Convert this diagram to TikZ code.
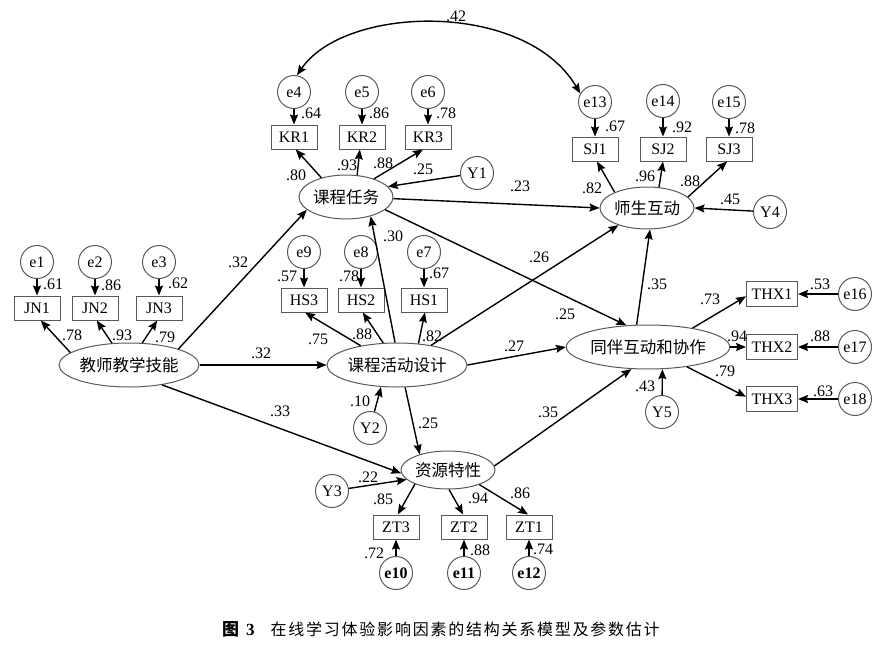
\documentclass[tikz,border=0pt]{standalone}
\usepackage{fontspec}
\setmainfont{Liberation Serif}
\newfontfamily\cjk{Noto Sans CJK SC}
\newfontfamily\cjkcap{Noto Sans CJK SC}[LetterSpace=11]
\usetikzlibrary{shapes.geometric,arrows.meta}
\begin{document}
\begin{tikzpicture}[x=1pt,y=-1pt,
  obs/.style={draw=black!65, line width=1pt, rectangle, minimum width=46pt, minimum height=24pt, inner sep=1pt, font=\fontsize{16}{16}\selectfont},
  wide/.style={minimum width=51pt, minimum height=25pt},
  err/.style={draw=black!65, line width=1pt, circle, minimum size=33pt, inner sep=0pt, font=\fontsize{16}{16}\selectfont},
  lat/.style={draw=black!65, line width=1pt, ellipse, inner sep=0pt, font=\cjk\fontsize{16.5}{16.5}\selectfont},
  arr/.style={line width=1.4pt, -{Stealth[length=10pt,width=8pt,inset=1.5pt]}},
  lbl/.style={font=\fontsize{16}{16}\selectfont, inner sep=0pt}]
\useasboundingbox (0,0) rectangle (884,645);

% latent variables
\node[lat, minimum width=134pt, minimum height=44pt] (TS) at (129,365) {教师教学技能};
\node[lat, minimum width=94pt, minimum height=44pt] (KT) at (346,197) {课程任务};
\node[lat, minimum width=134pt, minimum height=44pt] (HD) at (397,365) {课程活动设计};
\node[lat, minimum width=94pt, minimum height=38pt] (ZY) at (448,470) {资源特性};
\node[lat, minimum width=94pt, minimum height=42pt] (SH) at (647,208) {师生互动};
\node[lat, minimum width=154pt, minimum height=44pt] (TB) at (648,347) {同伴互动和协作};

% indicators
\node[obs] (JN1) at (37,308) {JN1};
\node[obs] (JN2) at (95,308) {JN2};
\node[obs] (JN3) at (159,308) {JN3};
\node[obs] (KR1) at (294,137) {KR1};
\node[obs] (KR2) at (362,137) {KR2};
\node[obs] (KR3) at (428,137) {KR3};
\node[obs] (HS3) at (304,300) {HS3};
\node[obs] (HS2) at (361,300) {HS2};
\node[obs] (HS1) at (424,300) {HS1};
\node[obs] (SJ1) at (595,149) {SJ1};
\node[obs] (SJ2) at (663,149) {SJ2};
\node[obs] (SJ3) at (729,149) {SJ3};
\node[obs] (ZT3) at (396,527) {ZT3};
\node[obs] (ZT2) at (464,527) {ZT2};
\node[obs] (ZT1) at (529,527) {ZT1};
\node[obs,wide] (THX1) at (772,294) {THX1};
\node[obs,wide] (THX2) at (772,347) {THX2};
\node[obs,wide] (THX3) at (772,399) {THX3};

% error terms
\node[err] (e1) at (37,262) {e1};
\node[err] (e2) at (95,262) {e2};
\node[err] (e3) at (159,262) {e3};
\node[err] (e4) at (294,92) {e4};
\node[err] (e5) at (362,92) {e5};
\node[err] (e6) at (428,92) {e6};
\node[err] (e9) at (304,252) {e9};
\node[err] (e8) at (361,252) {e8};
\node[err] (e7) at (424,252) {e7};
\node[err] (e13) at (595,102) {e13};
\node[err] (e14) at (663,101) {e14};
\node[err] (e15) at (729,102) {e15};
\node[err] (e10) at (396,573) {\bfseries e10};
\node[err] (e11) at (464,573) {\bfseries e11};
\node[err] (e12) at (529,573) {\bfseries e12};
\node[err] (e16) at (855,294) {e16};
\node[err] (e17) at (855,347) {e17};
\node[err] (e18) at (855,399) {e18};
\node[err] (Y1) at (477,173) {Y1};
\node[err] (Y2) at (370,428) {Y2};
\node[err] (Y3) at (332,491) {Y3};
\node[err] (Y4) at (770,212) {Y4};
\node[err] (Y5) at (662,412) {Y5};

% error -> indicator
\foreach \a/\b in {e1/JN1,e2/JN2,e3/JN3,e4/KR1,e5/KR2,e6/KR3,e9/HS3,e8/HS2,e7/HS1,
                   e13/SJ1,e14/SJ2,e15/SJ3,e10/ZT3,e11/ZT2,e12/ZT1,e16/THX1,e17/THX2,e18/THX3}
  \draw[arr] (\a) -- (\b);

% latent -> indicators
\draw[arr] (TS.168) -- (JN1.-73);
\draw[arr] (TS.128) -- (JN2.-82);
\draw[arr] (TS.59) -- (JN3.-98);
\draw[arr] (KT.142) -- (KR1.-82);
\draw[arr] (KT.63) -- (KR2.-100);
\draw[arr] (KT.33) -- (KR3.-112);
\draw[arr] (HD.152) -- (HS3.-85);
\draw[arr] (HD.122) -- (HS2.-82);
\draw[arr] (HD.45) -- (HS1.-86);
\draw[arr] (ZY.203) -- (ZT3.82);
\draw[arr] (ZY.-87) -- (ZT2.94);
\draw[arr] (ZY.-25) -- (ZT1.94);
\draw[arr] (SH.154) -- (SJ1.-81);
\draw[arr] (SH.60) -- (SJ2.-90);
\draw[arr] (SH.15) -- (SJ3.-99);
\draw[arr] (TB.23) -- (THX1.185);
\draw[arr] (TB.east) -- (THX2.west);
\draw[arr] (TB.-27) -- (THX3.175);

% structural paths
\draw[arr] (TS.18) -- (KT.198);
\draw[arr] (TS.east) -- (HD.west);
\draw[arr] (TS.-31) -- (ZY.184);
\draw[arr] (HD.95) -- (KT.-38);
\draw[arr] (HD.-70) -- (ZY.151);
\draw[arr] (KT.-2) -- (SH.180);
\draw[arr] (KT.-18) -- (TB.135);
\draw[arr] (HD.30) -- (SH.211);
\draw[arr] (HD.east) -- (TB.west);
\draw[arr] (ZY.5) -- (TB.233);
\draw[arr] (TB.117) -- (SH.-82);

% disturbances
\draw[arr] (Y1) -- (KT.14);
\draw[arr] (Y2) -- (HD.234);
\draw[arr] (Y3) -- (ZY.193);
\draw[arr] (Y4) -- (SH.east);
\draw[arr] (Y5) -- (TB.-57);

% covariance
\draw[line width=1.4pt, {Stealth[length=10pt,width=8pt,inset=1.5pt]}-{Stealth[length=10pt,width=8pt,inset=1.5pt]}]
  (e4.80) .. controls (345,5) and (525,0) .. (e13.150);

% coefficients
\foreach \p/\t [count=\i] in {
  (53,284)/.61,(111,285)/.86,(178,283)/.62,(72,335)/.78,(122,335)/.93,(165,337)/.79,
  (311,113)/.64,(379,113)/.86,(446,113)/.78,(296,175)/.80,(347,165)/.93,(383,163)/.88,(423,169)/.25,
  (615,126)/.67,(682,127)/.92,(745,128)/.78,(592,188)/.82,(645,176)/.96,(690,181)/.88,(730,199)/.45,
  (287,276)/.57,(349,276)/.78,(439,273)/.67,(318,339)/.75,(362,334)/.88,(432,336)/.82,(393,236)/.30,(360,401)/.10,
  (238,262)/.32,(261,353)/.32,(280,411)/.33,
  (428,423)/.25,(548,412)/.35,(368,477)/.22,(383,499)/.85,(478,498)/.94,(520,493)/.86,(374,553)/.72,(480,550)/.88,(543,549)/.74,
  (657,284)/.35,(565,314)/.25,(710,299)/.73,(820,284)/.53,(737,336)/.94,(820,336)/.88,(725,371)/.79,(823,391)/.63,(645,386)/.43,
  (520,186)/.23,(539,257)/.26,(514,346)/.27,(456,16)/.42}
  \node[lbl] (L\i) at \p {\t};

% caption
\node[anchor=west, inner sep=0pt] (cap) at (222,629)
  {{\cjk\bfseries\fontsize{17}{17}\selectfont 图}\hspace{7pt}{\bfseries\fontsize{17}{17}\selectfont 3}\hspace{16pt}{\cjkcap\fontsize{16}{16}\selectfont 在线学习体验影响因素的结构关系模型及参数估计}};
\end{tikzpicture}
\end{document}
